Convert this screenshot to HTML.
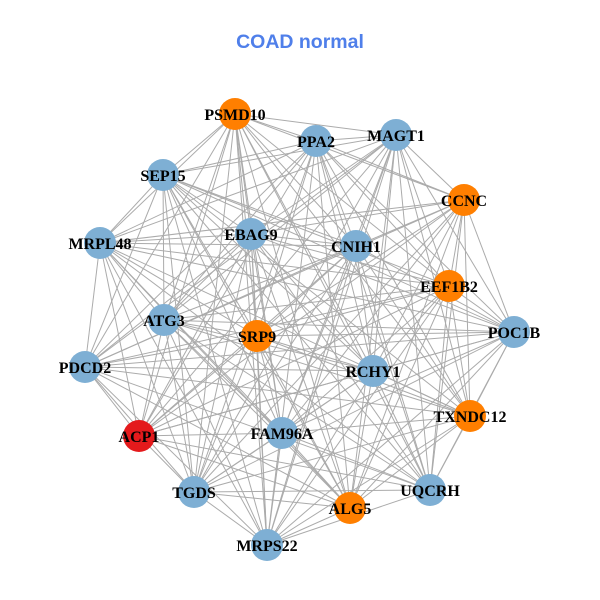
<!DOCTYPE html>
<html><head><meta charset="utf-8"><style>
html,body{margin:0;padding:0;background:#fff;width:600px;height:600px;overflow:hidden}
svg{display:block}
</style></head><body>
<svg id="g" width="600" height="600" xmlns="http://www.w3.org/2000/svg">
<text x="300" y="48" text-anchor="middle" font-family="Liberation Sans, sans-serif" font-weight="bold" font-size="19.5" fill="#4F7FEA">COAD normal</text>
<g id="edges" stroke="#ababab" stroke-width="1"></g>
<g id="nodes"></g>
<g id="labels" font-family="Liberation Serif, serif" font-weight="bold" font-size="16" fill="#000" text-anchor="middle"></g>
</svg>
<script>
var B="#7EAFD4",O="#FF7F00",R="#E41A1C";
var n=[["PSMD10",235,114,O],["PPA2",316,141,B],["MAGT1",396,135,B],["SEP15",163,175,B],["CCNC",464,200,O],["EBAG9",251,234,B],["CNIH1",356,246,B],["MRPL48",100,243,B],["EEF1B2",449,286,O],["ATG3",164,320,B],["SRP9",257,336,O],["POC1B",514,332,B],["PDCD2",85,367,B],["RCHY1",373,371,B],["TXNDC12",470,416,O],["ACP1",139,436,R],["FAM96A",282,433,B],["UQCRH",430,490,B],["TGDS",194,492,B],["ALG5",350,508,O],["MRPS22",267,545,B]];
var ns="http://www.w3.org/2000/svg",E=document.getElementById("edges"),N=document.getElementById("nodes"),L=document.getElementById("labels");
for(var i=0;i<n.length;i++)for(var j=i+1;j<n.length;j++){if((i*7+j*3)%11==0)continue;var l=document.createElementNS(ns,"line");l.setAttribute("x1",n[i][1]);l.setAttribute("y1",n[i][2]);l.setAttribute("x2",n[j][1]);l.setAttribute("y2",n[j][2]);E.appendChild(l);}
n.forEach(function(d){var c=document.createElementNS(ns,"circle");c.setAttribute("cx",d[1]);c.setAttribute("cy",d[2]);c.setAttribute("r",16);c.setAttribute("fill",d[3]);N.appendChild(c);var t=document.createElementNS(ns,"text");t.setAttribute("x",d[1]);t.setAttribute("y",d[2]+6);t.textContent=d[0];L.appendChild(t);});
</script>
</body></html>
